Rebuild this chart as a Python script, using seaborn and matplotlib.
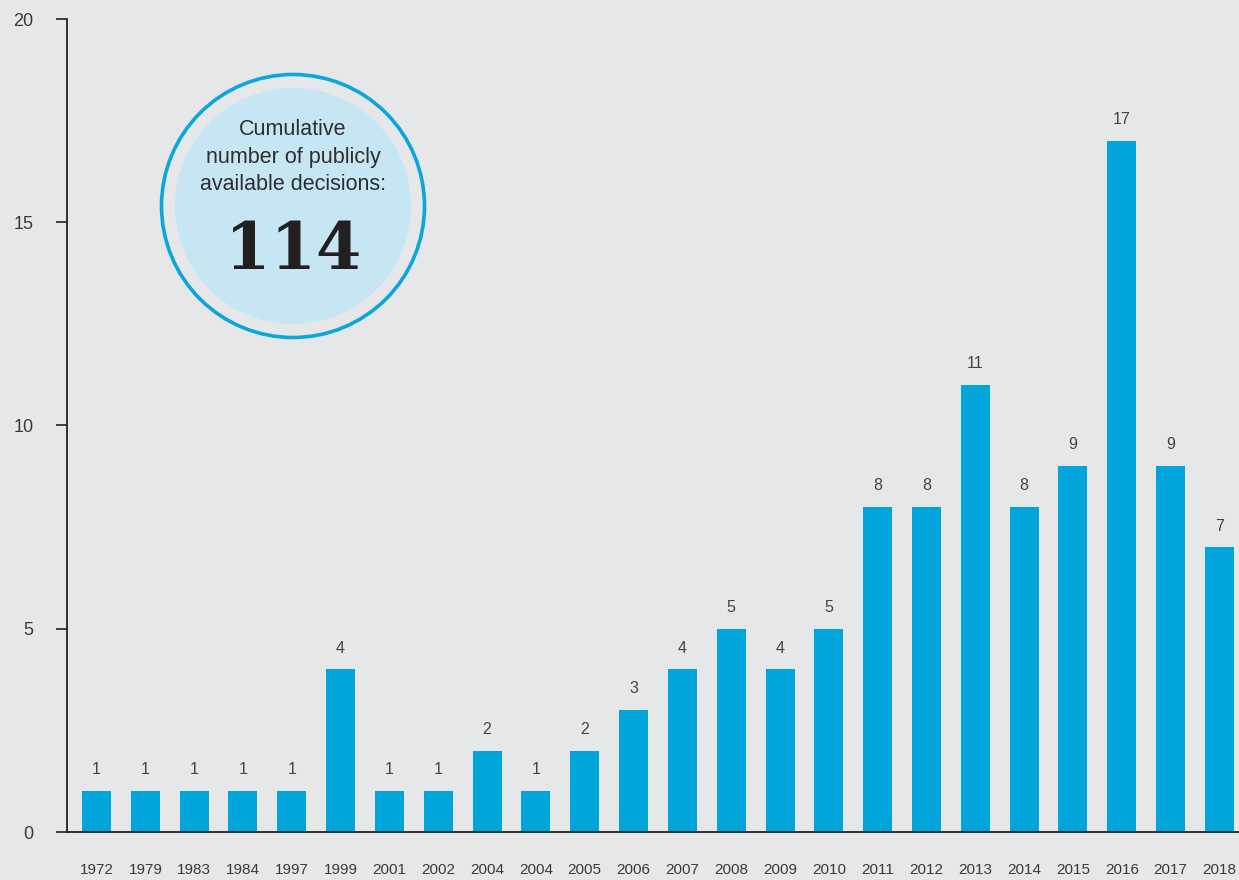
import matplotlib
matplotlib.use("Agg")
import matplotlib.pyplot as plt
from matplotlib.patches import Circle
import numpy as np
import pandas as pd
import seaborn as sns

# Decisions published per year
years = ["1972", "1979", "1983", "1984", "1997", "1999", "2001", "2002", "2004",
         "2004", "2005", "2006", "2007", "2008", "2009", "2010", "2011", "2012",
         "2013", "2014", "2015", "2016", "2017", "2018"]
decisions = [1, 1, 1, 1, 1, 4, 1, 1, 2, 1, 2, 3, 4, 5, 4, 5, 8, 8, 11, 8, 9, 17, 9, 7]
y_ticks = [0, 5, 10, 15, 20]
total_label = "114"
badge_caption = "Cumulative\nnumber of publicly\navailable decisions:"

BG = "#e6e7e9"
BAR = "#00a6db"
RING = "#0ba6dc"
DISC = "#c6e6f4"
TEXT = "#3a3a3a"

sns.set_theme(style="white")
plt.rcParams["font.family"] = ["Liberation Sans", "DejaVu Sans"]

df = pd.DataFrame({"slot": np.arange(len(years)), "count": decisions})

fig = plt.figure(figsize=(12.39, 8.80), dpi=100, facecolor=BG)
ax = fig.add_axes([67 / 1239, 48 / 880, 1 - 67 / 1239, (832 - 19) / 880])
ax.set_facecolor(BG)

sns.barplot(data=df, x="slot", y="count", color=BAR, saturation=1,
            width=0.594, ax=ax, edgecolor="none")

ax.set_xlim(-0.604, 23.40)
ax.set_ylim(0, 20)
ax.set_yticks(y_ticks)
ax.set_yticklabels([str(t) for t in y_ticks], fontsize=13, color=TEXT)
ax.set_xticks(np.arange(len(years)))
ax.set_xticklabels(years, fontsize=11, color=TEXT)
ax.set_xlabel("")
ax.set_ylabel("")

ax.tick_params(axis="y", left=True, length=8, width=1.2, color="#222222", pad=16)
ax.tick_params(axis="x", bottom=False, length=0, pad=22)

for side in ("top", "right"):
    ax.spines[side].set_visible(False)
for side in ("left", "bottom"):
    ax.spines[side].set_visible(True)
    ax.spines[side].set_color("#222222")
    ax.spines[side].set_linewidth(1.3)

# Value labels above each bar
for container in ax.containers:
    ax.bar_label(container, labels=[str(v) for v in decisions], padding=10,
                 fontsize=11.5, color="#444444")

# Badge with the cumulative total
cx, cy = 2.93, 8.80 - 2.06
fig.patches.append(Circle((cx, cy), 1.315, transform=fig.dpi_scale_trans,
                          facecolor="none", edgecolor=RING, linewidth=2.6))
fig.patches.append(Circle((cx, cy), 1.18, transform=fig.dpi_scale_trans,
                          facecolor=DISC, edgecolor="none"))
fig.text(cx, 8.80 - 1.57, badge_caption, transform=fig.dpi_scale_trans,
         ha="center", va="center", fontsize=15.5, color="#2e2e2e",
         linespacing=1.4)
fig.text(cx, 8.80 - 2.69, total_label, transform=fig.dpi_scale_trans,
         ha="center", va="baseline", fontsize=47, fontweight="bold",
         family=["DejaVu Serif"], color="#231f20")

fig.savefig("out.png", dpi=100, facecolor=BG)
